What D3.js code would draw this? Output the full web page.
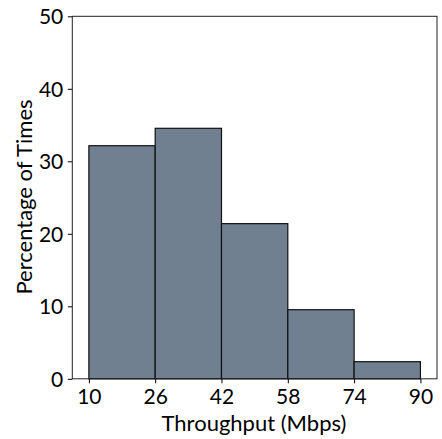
<!DOCTYPE html>
<html><head><meta charset="utf-8">
<script src="https://cdn.jsdelivr.net/npm/d3@7"></script>
<style>body{margin:0;background:#fff;} text{font-family:"Lato","DejaVu Sans",sans-serif;fill:#000;}</style>
</head><body>
<svg id="chart" width="442" height="439"></svg>
<script>
const binEdges = [10, 26, 42, 58, 74, 90];
const percentages = [32.15, 34.55, 21.4, 9.53, 2.36];
const xTicks = [10, 26, 42, 58, 74, 90];
const yTicks = [0, 10, 20, 30, 40, 50];

const svg = d3.select("#chart");
const m = {left: 72.3, right: 437, top: 16.3, bottom: 378.8};
const x = d3.scaleLinear().domain([6, 94]).range([m.left, m.right]);
const y = d3.scaleLinear().domain([0, 50]).range([m.bottom, m.top]);

const bins = percentages.map((v, i) => ({x0: binEdges[i], x1: binEdges[i+1], v}));
svg.append("g").selectAll("rect").data(bins).join("rect")
  .attr("x", d => x(d.x0)).attr("width", d => x(d.x1) - x(d.x0))
  .attr("y", d => y(d.v)).attr("height", d => y(0) - y(d.v))
  .attr("fill", "#708090").attr("stroke", "#111").attr("stroke-width", 1.2);

const fs = 21;
const xa = svg.append("g").attr("transform", `translate(0,${m.bottom})`)
  .call(d3.axisBottom(x).tickValues(xTicks).tickSize(4.5));
xa.selectAll("text").attr("y", 25.5).attr("dy", null);
const ya = svg.append("g").attr("transform", `translate(${m.left},0)`)
  .call(d3.axisLeft(y).tickValues(yTicks).tickSize(4.5));
ya.selectAll("text").attr("x", -9).attr("dy", "0.36em");
[xa, ya].forEach(a => {
  a.select(".domain").remove();
  a.selectAll("line").attr("stroke", "#000").attr("stroke-width", 1);
  a.selectAll("text").style("font-size", fs + "px").attr("fill", "#000");
});

svg.append("rect").attr("x", m.left).attr("y", m.top)
  .attr("width", m.right - m.left).attr("height", m.bottom - m.top)
  .attr("fill", "none").attr("stroke", "#222").attr("stroke-width", 1);

svg.append("text").attr("x", 254).attr("y", 431)
  .attr("text-anchor", "middle").style("font-size", "22px").text("Throughput (Mbps)");
svg.append("text").attr("transform", `translate(32,197) rotate(-90)`)
  .attr("text-anchor", "middle").style("font-size", "22px").text("Percentage of Times");
</script>
</body></html>
